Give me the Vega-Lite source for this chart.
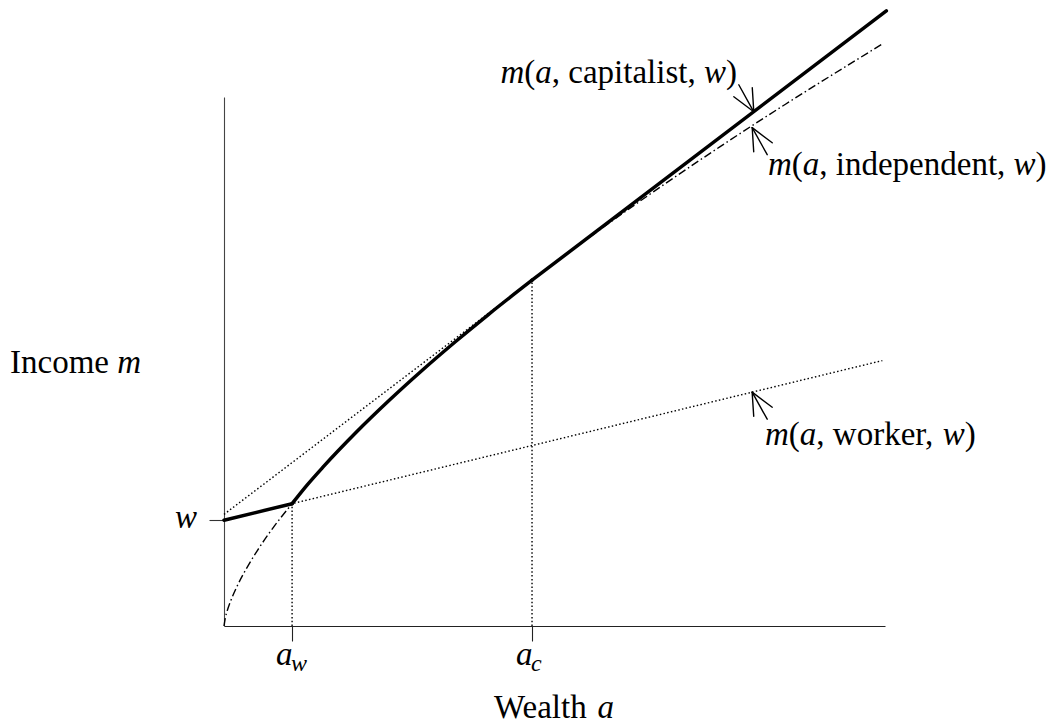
{
  "$schema": "https://vega.github.io/schema/vega-lite/v6.json",
  "width": 661,
  "height": 529,
  "autosize": {"type": "none"},
  "padding": {"left": 224, "top": 97, "right": 168, "bottom": 101},
  "background": "white",
  "config": {"view": {"stroke": null}},
  "datasets": {
    "curves": [
      {"series": "worker", "a": 0, "m": 2.0},
      {"series": "worker", "a": 9.96, "m": 5.017},
      {"series": "worker_thick", "a": 0, "m": 2.0},
      {"series": "worker_thick", "a": 1.03, "m": 2.312},
      {"series": "capitalist_ext", "a": 0, "m": 2.11},
      {"series": "capitalist_ext", "a": 4.66, "m": 6.537},
      {"series": "capitalist_thick", "a": 4.66, "m": 6.537},
      {"series": "capitalist_thick", "a": 10.02, "m": 11.629},
      {"series": "independent", "a": 0, "m": 0},
      {"series": "independent", "a": 0.02, "m": 0.156},
      {"series": "independent", "a": 0.05, "m": 0.293},
      {"series": "independent", "a": 0.1, "m": 0.471},
      {"series": "independent", "a": 0.2, "m": 0.757},
      {"series": "independent", "a": 0.35, "m": 1.11},
      {"series": "independent", "a": 0.5, "m": 1.417},
      {"series": "independent", "a": 0.75, "m": 1.87},
      {"series": "independent", "a": 1.03, "m": 2.312},
      {"series": "independent", "a": 1.5, "m": 3.007},
      {"series": "independent", "a": 2, "m": 3.662},
      {"series": "independent", "a": 3, "m": 4.835},
      {"series": "independent", "a": 4, "m": 5.888},
      {"series": "independent", "a": 4.66, "m": 6.537},
      {"series": "independent", "a": 5.5, "m": 7.323},
      {"series": "independent", "a": 6.5, "m": 8.211},
      {"series": "independent", "a": 7.5, "m": 9.057},
      {"series": "independent", "a": 8.5, "m": 9.868},
      {"series": "independent", "a": 9.95, "m": 10.994},
      {"series": "independent_thick", "a": 1.03, "m": 2.312},
      {"series": "independent_thick", "a": 1.25, "m": 2.654},
      {"series": "independent_thick", "a": 1.5, "m": 3.007},
      {"series": "independent_thick", "a": 2, "m": 3.662},
      {"series": "independent_thick", "a": 2.5, "m": 4.267},
      {"series": "independent_thick", "a": 3, "m": 4.835},
      {"series": "independent_thick", "a": 3.5, "m": 5.373},
      {"series": "independent_thick", "a": 4, "m": 5.888},
      {"series": "independent_thick", "a": 4.66, "m": 6.537}
    ],
    "verticals": [
      {"a": 1.03, "m": 0, "m2": 2.312},
      {"a": 4.66, "m": 0, "m2": 6.537}
    ],
    "arrows": [
      {"a": 8.015, "m": 9.72, "a2": 7.788, "m2": 10.231},
      {"a": 8.015, "m": 9.72, "a2": 7.992, "m2": 10.174},
      {"a": 8.015, "m": 9.72, "a2": 7.713, "m2": 10.004},
      {"a": 7.991, "m": 9.42, "a2": 8.218, "m2": 8.909},
      {"a": 7.991, "m": 9.42, "a2": 8.014, "m2": 8.966},
      {"a": 7.991, "m": 9.42, "a2": 8.294, "m2": 9.136},
      {"a": 7.99, "m": 4.42, "a2": 8.218, "m2": 3.909},
      {"a": 7.99, "m": 4.42, "a2": 8.014, "m2": 3.966},
      {"a": 7.99, "m": 4.42, "a2": 8.294, "m2": 4.136}
    ],
    "labels": [
      {"series": "capitalist", "word": ", capitalist, ", "a": 4.183, "m": 10.265},
      {"series": "independent", "word": ", independent, ", "a": 8.23, "m": 8.526},
      {"series": "worker", "word": ", worker, ", "a": 8.185, "m": 3.422}
    ],
    "xticks": [
      {"a": 1.03, "m": 0, "sub": "w"},
      {"a": 4.66, "m": 0, "sub": "c"}
    ],
    "axislabels": [
      {"name": "income", "a": 0, "m": 5},
      {"name": "wealth", "a": 5, "m": 0},
      {"name": "w", "a": 0, "m": 2.0}
    ]
  },
  "encoding": {
    "x": {"field": "a", "type": "quantitative", "scale": {"domain": [0, 10], "nice": false, "zero": false},
      "axis": {"values": [1.03, 4.66], "labels": false, "title": null, "grid": false, "tickSize": 15, "tickColor": "#222", "tickWidth": 1.1, "domainColor": "#222", "domainWidth": 1.1}},
    "y": {"field": "m", "type": "quantitative", "scale": {"domain": [0, 10], "nice": false, "zero": false},
      "axis": {"values": [2], "labels": false, "title": null, "grid": false, "tickSize": 15, "tickColor": "#333", "tickWidth": 1.1, "domainColor": "#444", "domainWidth": 1.1}}
  },
  "layer": [
    {"data": {"name": "curves"}, "transform": [{"filter": "datum.series === 'worker'"}],
     "mark": {"type": "line", "color": "black", "strokeWidth": 1.4, "strokeDash": [1.5, 2.3]}},
    {"data": {"name": "curves"}, "transform": [{"filter": "datum.series === 'capitalist_ext'"}],
     "mark": {"type": "line", "color": "black", "strokeWidth": 1.4, "strokeDash": [1.5, 2.3]}},
    {"data": {"name": "verticals"},
     "mark": {"type": "rule", "color": "black", "strokeWidth": 1.4, "strokeDash": [1.5, 2.3]},
     "encoding": {"y2": {"field": "m2"}}},
    {"data": {"name": "curves"}, "transform": [{"filter": "datum.series === 'independent'"}],
     "mark": {"type": "line", "color": "black", "strokeWidth": 1.4, "strokeDash": [8, 3, 1.5, 3], "interpolate": "monotone"}},
    {"data": {"name": "curves"}, "transform": [{"filter": "datum.series === 'worker_thick'"}],
     "mark": {"type": "line", "color": "black", "strokeWidth": 3.5, "strokeCap": "round"}},
    {"data": {"name": "curves"}, "transform": [{"filter": "datum.series === 'independent_thick'"}],
     "mark": {"type": "line", "color": "black", "strokeWidth": 3.5, "strokeCap": "round", "interpolate": "monotone"}},
    {"data": {"name": "curves"}, "transform": [{"filter": "datum.series === 'capitalist_thick'"}],
     "mark": {"type": "line", "color": "black", "strokeWidth": 3.5, "strokeCap": "round"}},
    {"data": {"name": "arrows"},
     "mark": {"type": "rule", "color": "black", "strokeWidth": 1.4, "strokeCap": "round"},
     "encoding": {"x2": {"field": "a2"}, "y2": {"field": "m2"}}},
    {"data": {"name": "labels"},
     "mark": {"type": "text", "font": "Liberation Serif", "fontSize": 33, "fontStyle": "italic", "align": "left", "baseline": "alphabetic", "color": "black", "dx": 0},
     "encoding": {"text": {"value": "m"}}},
    {"data": {"name": "labels"},
     "mark": {"type": "text", "font": "Liberation Serif", "fontSize": 33, "align": "left", "baseline": "alphabetic", "color": "black", "dx": 23.8},
     "encoding": {"text": {"value": "("}}},
    {"data": {"name": "labels"},
     "mark": {"type": "text", "font": "Liberation Serif", "fontSize": 33, "fontStyle": "italic", "align": "left", "baseline": "alphabetic", "color": "black", "dx": 34.8},
     "encoding": {"text": {"value": "a"}}},
    {"data": {"name": "labels"},
     "mark": {"type": "text", "font": "Liberation Serif", "fontSize": 33, "align": "left", "baseline": "alphabetic", "color": "black", "dx": 51.3},
     "encoding": {"text": {"field": "word"}}},
    {"data": {"name": "labels"}, "transform": [{"filter": "datum.series === 'capitalist'"}],
     "mark": {"type": "text", "font": "Liberation Serif", "fontSize": 33, "fontStyle": "italic", "align": "left", "baseline": "alphabetic", "color": "black", "dx": 203.5},
     "encoding": {"text": {"value": "w"}}},
    {"data": {"name": "labels"}, "transform": [{"filter": "datum.series === 'capitalist'"}],
     "mark": {"type": "text", "font": "Liberation Serif", "fontSize": 33, "align": "left", "baseline": "alphabetic", "color": "black", "dx": 225.5},
     "encoding": {"text": {"value": ")"}}},
    {"data": {"name": "labels"}, "transform": [{"filter": "datum.series === 'independent'"}],
     "mark": {"type": "text", "font": "Liberation Serif", "fontSize": 33, "fontStyle": "italic", "align": "left", "baseline": "alphabetic", "color": "black", "dx": 245.6},
     "encoding": {"text": {"value": "w"}}},
    {"data": {"name": "labels"}, "transform": [{"filter": "datum.series === 'independent'"}],
     "mark": {"type": "text", "font": "Liberation Serif", "fontSize": 33, "align": "left", "baseline": "alphabetic", "color": "black", "dx": 267.6},
     "encoding": {"text": {"value": ")"}}},
    {"data": {"name": "labels"}, "transform": [{"filter": "datum.series === 'worker'"}],
     "mark": {"type": "text", "font": "Liberation Serif", "fontSize": 33, "fontStyle": "italic", "align": "left", "baseline": "alphabetic", "color": "black", "dx": 177.8},
     "encoding": {"text": {"value": "w"}}},
    {"data": {"name": "labels"}, "transform": [{"filter": "datum.series === 'worker'"}],
     "mark": {"type": "text", "font": "Liberation Serif", "fontSize": 33, "align": "left", "baseline": "alphabetic", "color": "black", "dx": 199.8},
     "encoding": {"text": {"value": ")"}}},
    {"data": {"name": "axislabels"}, "transform": [{"filter": "datum.name === 'income'"}],
     "mark": {"type": "text", "font": "Liberation Serif", "fontSize": 33, "align": "left", "baseline": "alphabetic", "color": "black", "dx": -214, "dy": 11.5},
     "encoding": {"text": {"value": "Income"}}},
    {"data": {"name": "axislabels"}, "transform": [{"filter": "datum.name === 'income'"}],
     "mark": {"type": "text", "font": "Liberation Serif", "fontSize": 33, "fontStyle": "italic", "align": "left", "baseline": "alphabetic", "color": "black", "dx": -106.75, "dy": 11.5},
     "encoding": {"text": {"value": "m"}}},
    {"data": {"name": "axislabels"}, "transform": [{"filter": "datum.name === 'wealth'"}],
     "mark": {"type": "text", "font": "Liberation Serif", "fontSize": 33, "align": "left", "baseline": "alphabetic", "color": "black", "dx": -60.5, "dy": 92},
     "encoding": {"text": {"value": "Wealth"}}},
    {"data": {"name": "axislabels"}, "transform": [{"filter": "datum.name === 'wealth'"}],
     "mark": {"type": "text", "font": "Liberation Serif", "fontSize": 33, "fontStyle": "italic", "align": "left", "baseline": "alphabetic", "color": "black", "dx": 43, "dy": 92},
     "encoding": {"text": {"value": "a"}}},
    {"data": {"name": "axislabels"}, "transform": [{"filter": "datum.name === 'w'"}],
     "mark": {"type": "text", "font": "Liberation Serif", "fontSize": 33, "fontStyle": "italic", "align": "right", "baseline": "alphabetic", "color": "black", "dx": -27, "dy": 8},
     "encoding": {"text": {"value": "w"}}},
    {"data": {"name": "xticks"},
     "mark": {"type": "text", "font": "Liberation Serif", "fontSize": 33, "fontStyle": "italic", "align": "left", "baseline": "alphabetic", "color": "black", "dx": -16, "dy": 39},
     "encoding": {"text": {"value": "a"}}},
    {"data": {"name": "xticks"},
     "mark": {"type": "text", "font": "Liberation Serif", "fontSize": 24, "fontStyle": "italic", "align": "left", "baseline": "alphabetic", "color": "black", "dx": -1, "dy": 45},
     "encoding": {"text": {"field": "sub"}}}
  ]
}
